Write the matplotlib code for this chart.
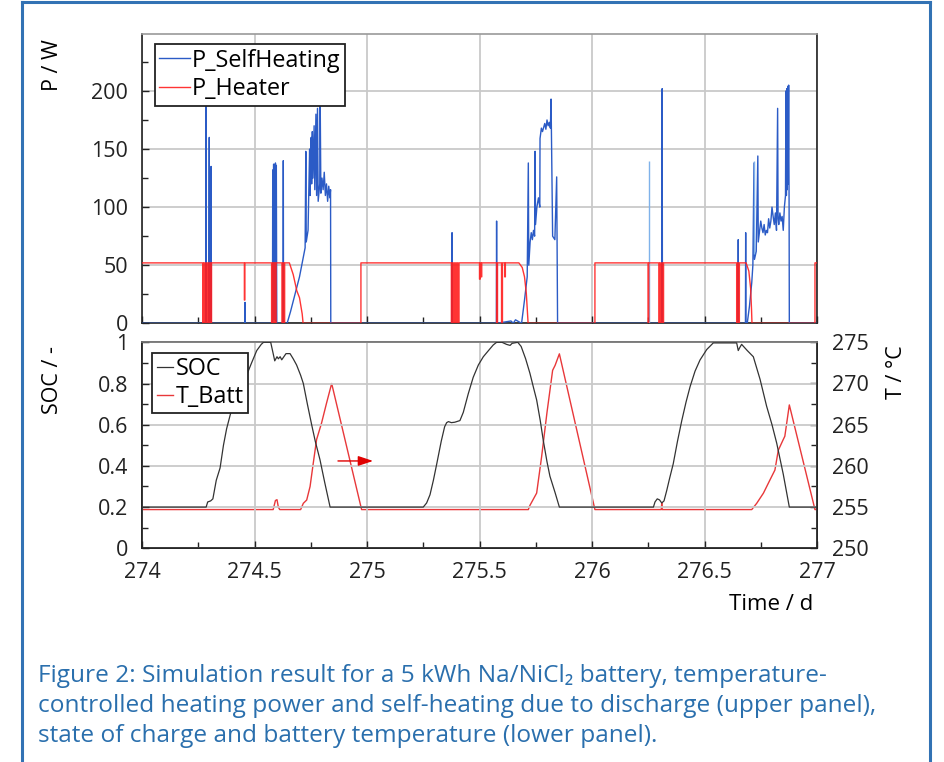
import matplotlib
matplotlib.use("Agg")
import matplotlib.pyplot as plt
from matplotlib.lines import Line2D
from matplotlib.ticker import MultipleLocator
from matplotlib import font_manager

# ---------------- data ----------------
heater_t = [274.000, 274.270, 274.270, 274.274, 274.274, 274.277, 274.277, 274.282, 274.282,
            274.286, 274.286, 274.291, 274.291, 274.296, 274.296, 274.301, 274.301, 274.305,
            274.305, 274.309, 274.309, 274.455, 274.455, 274.457, 274.457, 274.576, 274.576,
            274.580, 274.580, 274.584, 274.584, 274.588, 274.588, 274.592, 274.592, 274.596,
            274.596, 274.622, 274.622, 274.626, 274.626, 274.630, 274.630, 274.634, 274.634,
            274.655, 274.672, 274.688, 274.700, 274.712, 274.716, 274.973, 274.973, 275.375,
            275.375, 275.379, 275.379, 275.383, 275.383, 275.388, 275.388, 275.393, 275.393,
            275.398, 275.398, 275.404, 275.404, 275.409, 275.409, 275.500, 275.500, 275.503,
            275.503, 275.508, 275.508, 275.510, 275.510, 275.576, 275.576, 275.580, 275.580,
            275.598, 275.598, 275.602, 275.602, 275.612, 275.612, 275.615, 275.615, 275.675,
            275.690, 275.700, 275.708, 275.713, 275.716, 276.013, 276.013, 276.249, 276.249,
            276.252, 276.252, 276.297, 276.297, 276.301, 276.301, 276.305, 276.305, 276.310,
            276.310, 276.314, 276.314, 276.318, 276.318, 276.643, 276.643, 276.647, 276.647,
            276.651, 276.651, 276.655, 276.655, 276.685, 276.697, 276.705, 276.709, 276.711,
            276.991, 276.991, 277.000]
heater_p = [52, 52, 0, 0, 52, 52, 0, 0, 52,
            52, 0, 0, 52, 52, 0, 0, 52, 52,
            0, 0, 52, 52, 20, 20, 52, 52, 0,
            0, 52, 52, 0, 0, 52, 52, 0, 0,
            52, 52, 0, 0, 52, 52, 0, 0, 52,
            52, 42, 28, 22, 8, 0, 0, 52, 52,
            0, 0, 52, 52, 0, 0, 52, 52, 0,
            0, 52, 52, 0, 0, 52, 52, 38, 38,
            52, 52, 40, 40, 52, 52, 0, 0, 52,
            52, 0, 0, 52, 52, 40, 40, 52, 52,
            48, 40, 26, 10, 0, 0, 52, 52, 0,
            0, 52, 52, 0, 0, 52, 52, 0, 0,
            52, 52, 0, 0, 52, 52, 0, 0, 52,
            52, 0, 0, 52, 52, 45, 30, 12, 0,
            0, 52, 52]

self_t = [274.000, 274.283, 274.284, 274.286, 274.297, 274.299, 274.300, 274.306, 274.307, 274.308,
          274.457, 274.458, 274.459, 274.580, 274.581, 274.583, 274.585, 274.587, 274.589, 274.591,
          274.593, 274.595, 274.597, 274.599, 274.627, 274.628, 274.629, 274.645, 274.660, 274.680,
          274.700, 274.715, 274.720, 274.725, 274.728, 274.730, 274.738, 274.740, 274.745, 274.747,
          274.752, 274.754, 274.757, 274.760, 274.765, 274.768, 274.773, 274.776, 274.780, 274.783,
          274.790, 274.792, 274.795, 274.800, 274.805, 274.810, 274.815, 274.820, 274.825, 274.830,
          274.835, 274.838, 274.839, 275.377, 275.378, 275.379, 275.575, 275.576, 275.577, 275.640,
          275.650, 275.660, 275.687, 275.700, 275.712, 275.717, 275.719, 275.725, 275.730, 275.735,
          275.740, 275.745, 275.747, 275.749, 275.755, 275.762, 275.768, 275.769, 275.775, 275.780,
          275.790, 275.795, 275.800, 275.805, 275.810, 275.815, 275.818, 275.825, 275.835, 275.843,
          275.847, 276.311, 276.312, 276.313, 276.649, 276.650, 276.651, 276.682, 276.683, 276.684,
          276.690, 276.700, 276.710, 276.715, 276.720, 276.722, 276.730, 276.737, 276.739, 276.745,
          276.750, 276.755, 276.760, 276.765, 276.770, 276.775, 276.780, 276.785, 276.790, 276.795,
          276.800, 276.805, 276.810, 276.815, 276.820, 276.825, 276.827, 276.830, 276.835, 276.840,
          276.845, 276.850, 276.855, 276.860, 276.862, 276.864, 276.866, 276.868, 276.870, 276.872,
          276.874, 276.876, 276.877, 277.000]
self_p = [0, 0, 205, 0, 0, 160, 0, 0, 135, 0,
          0, 18, 0, 0, 132, 5, 137, 3, 128, 4,
          138, 2, 136, 0, 0, 140, 0, 0, 10, 25,
          40, 55, 60, 65, 148, 70, 80, 100, 150, 110,
          160, 120, 165, 125, 170, 115, 180, 110, 185, 105,
          120, 191, 112, 125, 115, 130, 110, 120, 105, 118,
          108, 115, 0, 0, 78, 0, 0, 88, 0, 2,
          0, 3, 0, 20, 40, 138, 50, 70, 78, 72,
          80, 75, 148, 85, 100, 108, 100, 159, 168, 165,
          172, 167, 175, 170, 173, 168, 193, 75, 72, 126,
          0, 0, 202, 0, 0, 72, 0, 0, 78, 0,
          0, 15, 35, 50, 138, 55, 62, 144, 70, 80,
          88, 82, 78, 85, 76, 80, 78, 90, 82, 88,
          100, 92, 85, 95, 80, 185, 90, 85, 95, 88,
          92, 80, 100, 110, 200, 110, 202, 115, 204, 120,
          205, 100, 0, 0]

light_t = [276.255, 276.720]
light_top = [140, 140]
light_bottom = [0, 60]

soc_t = [274.000, 274.285, 274.292, 274.305, 274.315, 274.330, 274.347, 274.362, 274.376, 274.395,
         274.420, 274.450, 274.487, 274.510, 274.530, 274.540, 274.572, 274.580, 274.590, 274.600,
         274.606, 274.614, 274.621, 274.640, 274.658, 274.672, 274.687, 274.705, 274.717, 274.735,
         274.754, 274.770, 274.791, 274.812, 274.836, 275.250, 275.265, 275.280, 275.295, 275.310,
         275.330, 275.345, 275.354, 275.362, 275.375, 275.390, 275.413, 275.428, 275.450, 275.472,
         275.495, 275.517, 275.540, 275.561, 275.576, 275.600, 275.620, 275.636, 275.645, 275.670,
         275.685, 275.705, 275.724, 275.740, 275.754, 275.770, 275.784, 275.800, 275.813, 275.836,
         275.855, 276.273, 276.280, 276.290, 276.300, 276.310, 276.320, 276.332, 276.345, 276.361,
         276.380, 276.399, 276.418, 276.436, 276.458, 276.480, 276.510, 276.539, 276.643, 276.650,
         276.657, 276.665, 276.690, 276.717, 276.747, 276.776, 276.800, 276.821, 276.850, 276.877,
         277.000]
soc_v = [0.2, 0.2, 0.225, 0.23, 0.24, 0.33, 0.39, 0.50, 0.58, 0.66,
         0.74, 0.80, 0.90, 0.96, 0.99, 1.0, 1.0, 0.96, 0.91, 0.93,
         0.92, 0.93, 0.915, 0.945, 0.945, 0.92, 0.89, 0.84, 0.80, 0.70,
         0.60, 0.52, 0.43, 0.32, 0.2, 0.2, 0.22, 0.26, 0.33, 0.41,
         0.52, 0.59, 0.61, 0.615, 0.61, 0.612, 0.62, 0.66, 0.75, 0.83,
         0.89, 0.93, 0.96, 0.987, 1.0, 1.0, 0.99, 0.985, 0.995, 1.0,
         0.98, 0.92, 0.85, 0.78, 0.72, 0.62, 0.52, 0.42, 0.35, 0.27,
         0.2, 0.2, 0.225, 0.24, 0.235, 0.22, 0.23, 0.28, 0.34, 0.41,
         0.52, 0.62, 0.71, 0.785, 0.86, 0.914, 0.965, 0.997, 0.997, 0.96,
         0.975, 0.99, 0.96, 0.93, 0.82, 0.69, 0.60, 0.51, 0.36, 0.2,
         0.2]

tb_t = [274.000, 274.583, 274.593, 274.600, 274.606, 274.612, 274.705, 274.717, 274.732, 274.747,
        274.761, 274.776, 274.798, 274.820, 274.843, 274.976, 275.717, 275.724, 275.754, 275.776,
        275.800, 275.825, 275.836, 275.855, 276.013, 276.308, 276.310, 276.312, 276.710, 276.732,
        276.762, 276.791, 276.813, 276.828, 276.850, 276.857, 276.877, 276.991, 277.000]
tb_v = [254.7, 254.7, 255.8, 255.9, 255.0, 254.7, 254.7, 255.46, 255.86, 257.5,
        260.3, 263.2, 265.2, 267.6, 270.0, 254.7, 254.7, 255.2, 256.7, 261.1,
        266.5, 271.6, 272.2, 273.6, 254.7, 254.7, 255.5, 254.7, 254.7, 255.46,
        256.7, 258.3, 259.5, 261.9, 263.2, 263.6, 267.4, 254.7, 254.7]

x_ticks = [274, 274.5, 275, 275.5, 276, 276.5, 277]
x_labels = ["274", "274.5", "275", "275.5", "276", "276.5", "277"]
p_ticks = [0, 50, 100, 150, 200]
soc_ticks = [0, 0.2, 0.4, 0.6, 0.8, 1.0]
soc_labels = ["0", "0.2", "0.4", "0.6", "0.8", "1"]
t_ticks = [250, 255, 260, 265, 270, 275]

caption = ["Figure 2: Simulation result for a 5 kWh Na/NiCl\u2082 battery, temperature-",
           "controlled heating power and self-heating due to discharge (upper panel),",
           "state of charge and battery temperature (lower panel)."]

# ---------------- style ----------------
avail = {f.name for f in font_manager.fontManager.ttflist}
base_font = "Open Sans" if "Open Sans" in avail else "DejaVu Sans"
plt.rcParams['font.family'] = [base_font, 'DejaVu Sans']

FS = 15.5
LFS = 16.8
GRID = '#c9c9c9'
BLUE = '#2b5bc6'
LIGHTBLUE = '#7fb2ea'
RED = '#ff1e1e'
TRED = '#e8383a'
CAPBLUE = '#2a6fad'

fig = plt.figure(figsize=(9.44, 7.62), dpi=100)
L, W = 142/944, 675/944
ax1 = fig.add_axes([L, 1-323.3/762, W, 289.3/762])
ax2 = fig.add_axes([L, 1-548.3/762, W, 206/762])
ax3 = ax2.twinx()

# upper panel
ax1.plot(self_t, self_p, color=BLUE, lw=1.0, label='P_SelfHeating', zorder=3)
ax1.vlines(light_t, light_bottom, light_top, color=LIGHTBLUE, lw=1.0, zorder=3)
ax1.plot(heater_t, heater_p, color=RED, lw=1.0, label='P_Heater', zorder=4, alpha=0.9)
ax1.set_xlim(274, 277)
ax1.set_ylim(0, 249)
ax1.set_yticks(p_ticks)
ax1.set_xticks(x_ticks)
ax1.set_xticklabels([])
ax1.yaxis.set_minor_locator(MultipleLocator(25))
ax1.xaxis.set_minor_locator(MultipleLocator(0.25))
ax1.grid(True, which='major', color=GRID, lw=1.3, zorder=0)
leg1 = ax1.legend(loc='upper left', bbox_to_anchor=(0.019, 0.966), fontsize=LFS,
                  handlelength=1.3, handletextpad=0.1, borderpad=0.2, labelspacing=0.2,
                  borderaxespad=0, fancybox=False, framealpha=1)
leg1.get_frame().set_edgecolor('#222222')
leg1.get_frame().set_linewidth(1.3)

# lower panel
ax2.plot(soc_t, soc_v, color='#333333', lw=0.9, label='SOC', zorder=3)
ax3.plot(tb_t, tb_v, color=TRED, lw=1.0, label='T_Batt', zorder=3)
ax2.set_xlim(274, 277)
ax2.set_ylim(0, 1)
ax3.set_ylim(250, 275)
ax2.set_yticks(soc_ticks)
ax2.set_yticklabels(soc_labels)
ax3.set_yticks(t_ticks)
ax2.set_xticks(x_ticks)
ax2.set_xticklabels(x_labels)
ax2.yaxis.set_minor_locator(MultipleLocator(0.1))
ax3.yaxis.set_minor_locator(MultipleLocator(2.5))
ax2.xaxis.set_minor_locator(MultipleLocator(0.25))
ax2.grid(True, which='major', color=GRID, lw=1.3, zorder=0)
ax2.set_zorder(ax3.get_zorder() + 1)
ax2.patch.set_visible(False)

h2, l2 = ax2.get_legend_handles_labels()
h3, l3 = ax3.get_legend_handles_labels()
leg2 = ax2.legend(h2 + h3, l2 + l3, loc='upper left', bbox_to_anchor=(0.015, 0.95),
                  fontsize=LFS, handlelength=0.7, handletextpad=0.1, borderpad=0.2,
                  labelspacing=0.15, borderaxespad=0, fancybox=False, framealpha=1)
leg2.get_frame().set_edgecolor('#222222')
leg2.get_frame().set_linewidth(1.3)

ax2.annotate('', xy=(275.027, 0.424), xytext=(274.871, 0.424),
             arrowprops=dict(arrowstyle='-|>,head_length=0.9,head_width=0.3',
                             color='#e00000', lw=1.0, shrinkA=0, shrinkB=0))

for ax in (ax1, ax2, ax3):
    ax.tick_params(which='both', direction='in', labelsize=FS, colors='#222222')
    ax.tick_params(which='major', length=5, width=1)
    ax.tick_params(which='minor', length=4, width=1)
ax1.tick_params(axis='y', pad=10)
ax2.tick_params(axis='y', pad=10)
ax2.tick_params(axis='x', pad=10)
ax3.tick_params(axis='y', pad=11)
for ax in (ax1, ax2, ax3):
    for s in ax.spines.values():
        s.set_linewidth(1.2)
        s.set_color('#222222')
ax1.spines['top'].set_color('#9a9a9a')
ax2.spines['top'].set_color('#777777')
ax3.spines['top'].set_color('#777777')

# axis labels
fig.text(52/944, 1-65/762, 'P / W', rotation=90, ha='center', va='center', fontsize=FS)
fig.text(52/944, 1-380/762, 'SOC / -', rotation=90, ha='center', va='center', fontsize=FS)
fig.text(896/944, 1-372/762, 'T / \u00b0C', rotation=90, ha='center', va='center', fontsize=FS)
fig.text(813/944, 1-605/762, 'Time / d', ha='right', va='center', fontsize=FS+0.5)

# caption
for i, line in enumerate(caption):
    fig.text(38/944, 1-(676 + 30*i)/762, line, ha='left', va='center', fontsize=17.6,
             color=CAPBLUE)

# frame border
BORDER = '#3272b4'
fig.add_artist(Line2D([22/944, 22/944], [0, 1-2/762], color=BORDER, lw=2.2, transform=fig.transFigure))
fig.add_artist(Line2D([930/944, 930/944], [0, 1-2/762], color=BORDER, lw=2.2, transform=fig.transFigure))
fig.add_artist(Line2D([22/944, 930/944], [1-2/762, 1-2/762], color=BORDER, lw=2.2, transform=fig.transFigure))

fig.savefig('out.png', dpi=100)
